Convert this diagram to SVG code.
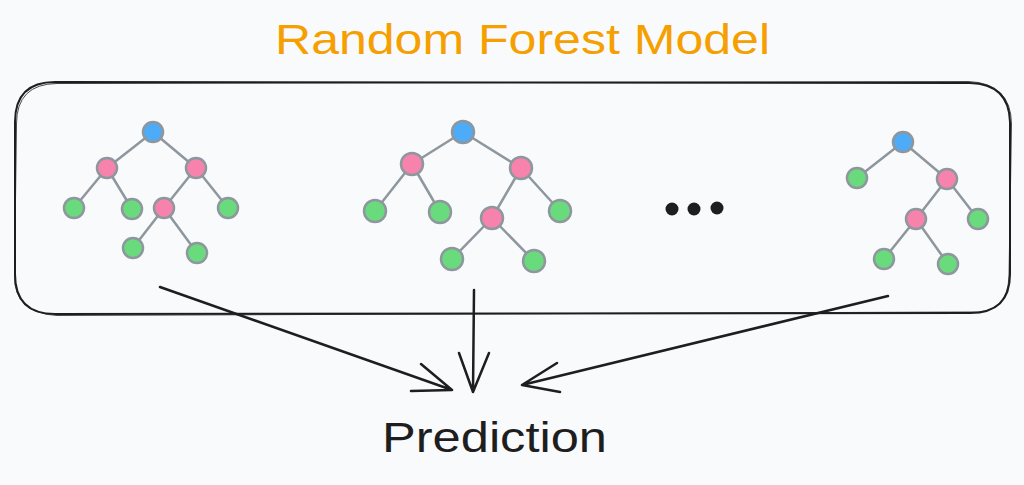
<svg xmlns="http://www.w3.org/2000/svg" width="1024" height="485" viewBox="0 0 1024 485">
<style>
.edge{stroke:#8e979e;stroke-width:2.5;stroke-linecap:round;fill:none}
.n{stroke:#8e979e;stroke-width:2.5}
.root{fill:#4dabf7}
.split{fill:#f783ac}
.leaf{fill:#69db7c}
.frame{fill:none;stroke:#1e1e1e;stroke-linejoin:round}
.arrow{fill:none;stroke:#1e1e1e;stroke-width:2.5;stroke-linecap:round;stroke-linejoin:round}
.title{font-family:"Liberation Sans",Arial,sans-serif;font-size:42px;fill:#f59f00}
.label{font-family:"Liberation Sans",Arial,sans-serif;font-size:42px;fill:#1e1e1e}
</style>
<rect width="1024" height="485" fill="#f9fafc"/>
<g id="title"><text class="title" x="275" y="54" textLength="495" lengthAdjust="spacingAndGlyphs">Random Forest Model</text></g>
<g id="forest">
<path class="frame" stroke-width="2" d="M55,82 L970,83 Q1009,84 1010,122 L1010,274 Q1010,313 970,313 L55,314 Q15,314 15,274 L15,122 Q15,82 55,82 Z"/>
<path class="frame" stroke-width="1" opacity="0.8" d="M57,83.5 L968,81.5 Q1011,83 1011.5,124 L1009,276 Q1008,315 968,312 L57,315.5 Q14,313 14.5,276 L16.5,124 Q16.5,84 57,83.5 Z"/>
</g>
<g id="tree1">
<path class="edge" d="M153,132L107,168M153,132L196,168M107,168L74,208M107,168L132,209M196,168L164,208M196,168L228,208M164,208L133,248M164,208L197,253"/>
<circle class="n root" cx="153" cy="132" r="10"/>
<circle class="n split" cx="107" cy="168" r="10"/>
<circle class="n split" cx="196" cy="168" r="10"/>
<circle class="n leaf" cx="74" cy="208" r="10"/>
<circle class="n leaf" cx="132" cy="209" r="10"/>
<circle class="n split" cx="164" cy="208" r="10"/>
<circle class="n leaf" cx="228" cy="208" r="10"/>
<circle class="n leaf" cx="133" cy="248" r="10"/>
<circle class="n leaf" cx="197" cy="253" r="10"/>
</g>
<g id="tree2">
<path class="edge" d="M463,132L412,164M463,132L521,168M412,164L375,211M412,164L440,212M521,168L492,218M521,168L560,211M492,218L452,259M492,218L534,261"/>
<circle class="n root" cx="463" cy="132" r="11"/>
<circle class="n split" cx="412" cy="164" r="11"/>
<circle class="n split" cx="521" cy="168" r="11"/>
<circle class="n leaf" cx="375" cy="211" r="11"/>
<circle class="n leaf" cx="440" cy="212" r="11"/>
<circle class="n split" cx="492" cy="218" r="11"/>
<circle class="n leaf" cx="560" cy="211" r="11"/>
<circle class="n leaf" cx="452" cy="259" r="11"/>
<circle class="n leaf" cx="534" cy="261" r="11"/>
</g>
<g id="ellipsis">
<circle cx="672" cy="209" r="6.5" fill="#1e1e1e"/>
<circle cx="694" cy="209" r="6.5" fill="#1e1e1e"/>
<circle cx="717" cy="208" r="6.5" fill="#1e1e1e"/>
</g>
<g id="tree3">
<path class="edge" d="M903,142L857,178M903,142L947,179M947,179L916,219M947,179L978,219M916,219L884,259M916,219L948,264"/>
<circle class="n root" cx="903" cy="142" r="10"/>
<circle class="n leaf" cx="857" cy="178" r="10"/>
<circle class="n split" cx="947" cy="179" r="10"/>
<circle class="n split" cx="916" cy="219" r="10"/>
<circle class="n leaf" cx="978" cy="219" r="10"/>
<circle class="n leaf" cx="884" cy="259" r="10"/>
<circle class="n leaf" cx="948" cy="264" r="10"/>
</g>
<g id="connectors">
<path class="arrow" d="M160,287L452,390M411,391L452,390L421,364"/>
<path class="arrow" d="M474,290L473,392M459,353L473,392L489,353"/>
<path class="arrow" d="M888,296L522,385M557,363L522,385L560,392"/>
</g>
<g id="prediction"><text class="label" x="382" y="452" textLength="225" lengthAdjust="spacingAndGlyphs">Prediction</text></g>
</svg>
